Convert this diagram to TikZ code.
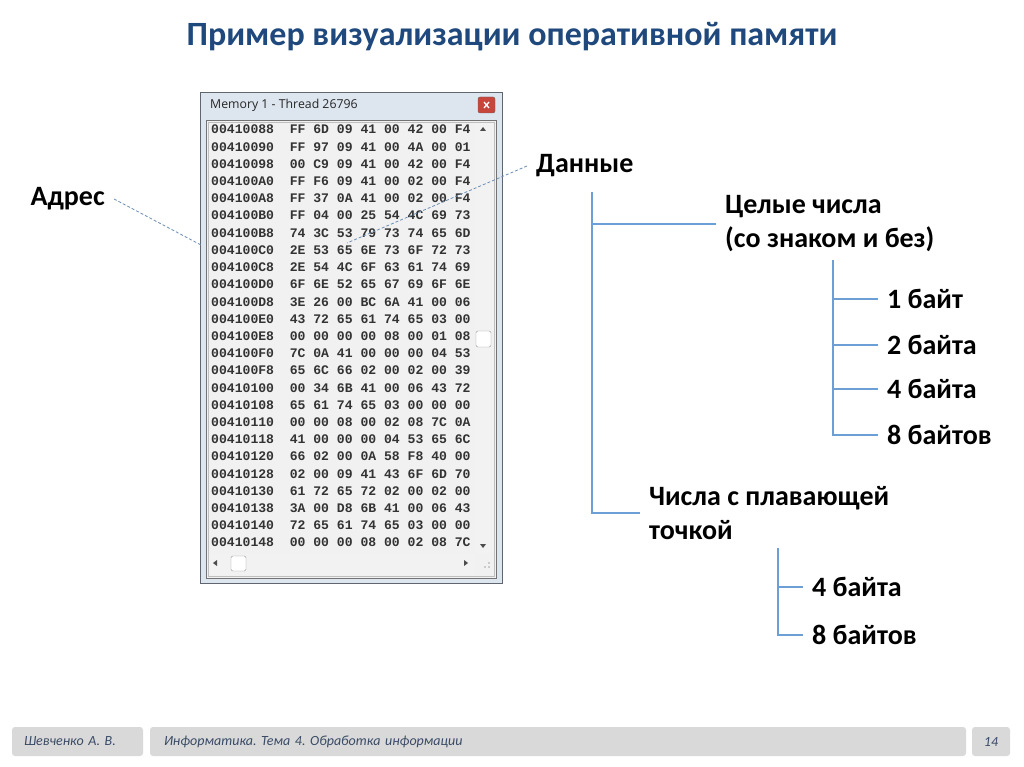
\documentclass[tikz,border=0pt]{standalone}
\usepackage{fontspec}
\setmainfont{Carlito}
\newfontfamily\hexfont{Liberation Mono}
\newfontfamily\winfont{Open Sans}
\usetikzlibrary{positioning}
\frenchspacing
\definecolor{titleblue}{HTML}{1F497D}
\definecolor{treeblue}{HTML}{6C9FD6}
\definecolor{ptrblue}{HTML}{6E8FB4}
\definecolor{footgray}{HTML}{D9D9D9}
\definecolor{foottext}{HTML}{3A4B66}
\definecolor{winframe}{HTML}{DDE5EF}
\definecolor{winedge}{HTML}{5F6670}
\definecolor{panel}{HTML}{F1F1F1}
\definecolor{closered}{HTML}{C8453C}
\tikzset{
  topic/.style   = {font=\fontsize{28}{34}\selectfont\bfseries, align=left,
                    inner xsep=9pt, inner ysep=2pt, anchor=west},
  branch/.style  = {treeblue, line width=1.1pt},
  pointer/.style = {ptrblue, line width=0.8pt, dash pattern=on 3pt off 2pt},
  hexrow/.style  = {font=\hexfont\bfseries\fontsize{13.1}{15}\selectfont, text=black!80,
                    inner sep=0pt, anchor=west, text height=8pt, text depth=0pt},
  footbox/.style = {fill=footgray, rounded corners=3pt, minimum height=29pt,
                    font=\fontsize{14}{16}\selectfont\itshape, text=foottext},
  tri/.style     = {fill=black!70},
}

\begin{document}
\begin{tikzpicture}[x=1pt,y=-1pt]
  \useasboundingbox (0,0) rectangle (1024,767);
  \fill[white] (0,0) rectangle (1024,767);
  \node[font=\fontsize{34}{40}\selectfont\bfseries, text=titleblue] (title) at (512,37)
    {Пример визуализации оперативной памяти};

  % memory window
  \draw[winedge, fill=winframe] (200,92) rectangle (502,583);
  \node[font=\winfont\fontsize{12.3}{14}\selectfont, anchor=west, inner sep=0pt, text=black!85]
    (wintitle) at (210,105) {Memory 1 - Thread 26796};
  \draw[black!60, fill=closered, rounded corners=2pt] (478,97) rectangle (495,113);
  \draw[white, line width=1.3pt] (484,102) -- (489,108) (489,102) -- (484,108);
  \draw[black!55, fill=panel] (206,120) rectangle (496,578);
  \draw[black!25] (208,122) rectangle (494,576);
  \fill[black!5] (475,123) rectangle (493,553);
  \fill[black!5] (209,554) rectangle (475,575);
  \draw[black!40, fill=white, rounded corners=1.5pt] (476,331) rectangle (491,347);
  \draw[black!40, fill=white, rounded corners=1.5pt] (231,556) rectangle (246,571);
  \fill[tri] (480,131) -- (486,131) -- (483,127) -- cycle;
  \fill[tri] (480,544) -- (486,544) -- (483,548) -- cycle;
  \fill[tri] (217,560) -- (217,566) -- (213,563) -- cycle;
  \fill[tri] (464,560) -- (464,566) -- (468,563) -- cycle;
  \foreach \p/\q in {489/563, 489/567, 485/567}
    {\fill[black!35] (\p,\q) circle (0.8pt);}
  \foreach \a/\b [count=\i from 0] in {
      00410088/{FF 6D 09 41 00 42 00 F4}, 00410090/{FF 97 09 41 00 4A 00 01},
      00410098/{00 C9 09 41 00 42 00 F4}, 004100A0/{FF F6 09 41 00 02 00 F4},
      004100A8/{FF 37 0A 41 00 02 00 F4}, 004100B0/{FF 04 00 25 54 4C 69 73},
      004100B8/{74 3C 53 79 73 74 65 6D}, 004100C0/{2E 53 65 6E 73 6F 72 73},
      004100C8/{2E 54 4C 6F 63 61 74 69}, 004100D0/{6F 6E 52 65 67 69 6F 6E},
      004100D8/{3E 26 00 BC 6A 41 00 06}, 004100E0/{43 72 65 61 74 65 03 00},
      004100E8/{00 00 00 00 08 00 01 08}, 004100F0/{7C 0A 41 00 00 00 04 53},
      004100F8/{65 6C 66 02 00 02 00 39}, 00410100/{00 34 6B 41 00 06 43 72},
      00410108/{65 61 74 65 03 00 00 00}, 00410110/{00 00 08 00 02 08 7C 0A},
      00410118/{41 00 00 00 04 53 65 6C}, 00410120/{66 02 00 0A 58 F8 40 00},
      00410128/{02 00 09 41 43 6F 6D 70}, 00410130/{61 72 65 72 02 00 02 00},
      00410138/{3A 00 D8 6B 41 00 06 43}, 00410140/{72 65 61 74 65 03 00 00},
      00410148/{00 00 00 08 00 02 08 7C}}
    {\node[hexrow] (row\i) at (211,{130+17.2*\i}) {\a~~\b};}

  % pointers
  \node[topic, anchor=east] (adr) at (114,199) {Адрес};
  \coordinate (adrtip) at (201,245);
  \draw[pointer] (adr.east) -- (adrtip);
  \node[topic] (data) at (527,166) {Данные};
  \coordinate (datatip) at (347,243);
  \draw[pointer] (data.west) -- (datatip);

  % tree
  \node[topic] (whole) at (716,224) {Целые числа\\(со знаком и без)};
  \node[topic] (flt) at (640,513) {Числа с плавающей\\точкой};
  \node[topic] (b1) at (878,299) {1 байт};
  \node[topic] (b2) at (878,345) {2 байта};
  \node[topic] (b4) at (878,389) {4 байта};
  \node[topic] (b8) at (878,435) {8 байтов};
  \node[topic] (f4) at (803,587) {4 байта};
  \node[topic] (f8) at (803,635) {8 байтов};
  \coordinate (root) at (592,192);
  \coordinate (wroot) at (833,260);
  \coordinate (froot) at (778,548);
  \draw[branch] (root) |- (flt.west);
  \draw[branch] (root |- whole.west) -- (whole.west);
  \draw[branch] (wroot) |- (b8.west);
  \foreach \n in {b1,b2,b4}
    {\draw[branch] (wroot |- \n.west) -- (\n.west);}
  \draw[branch] (froot) |- (f8.west);
  \draw[branch] (froot |- f4.west) -- (f4.west);

  % footer
  \node[footbox, text width=107pt, inner xsep=12pt, align=left] (author) at (77.5,741.5)
    {Шевченко А. В.};
  \node[footbox, text width=788pt, inner xsep=14pt, align=left] (course) at (558,741.5)
    {Информатика. Тема 4. Обработка информации};
  \node[footbox, minimum width=38pt, inner xsep=0pt] (page) at (991,741.5) {14};
\end{tikzpicture}
\end{document}
